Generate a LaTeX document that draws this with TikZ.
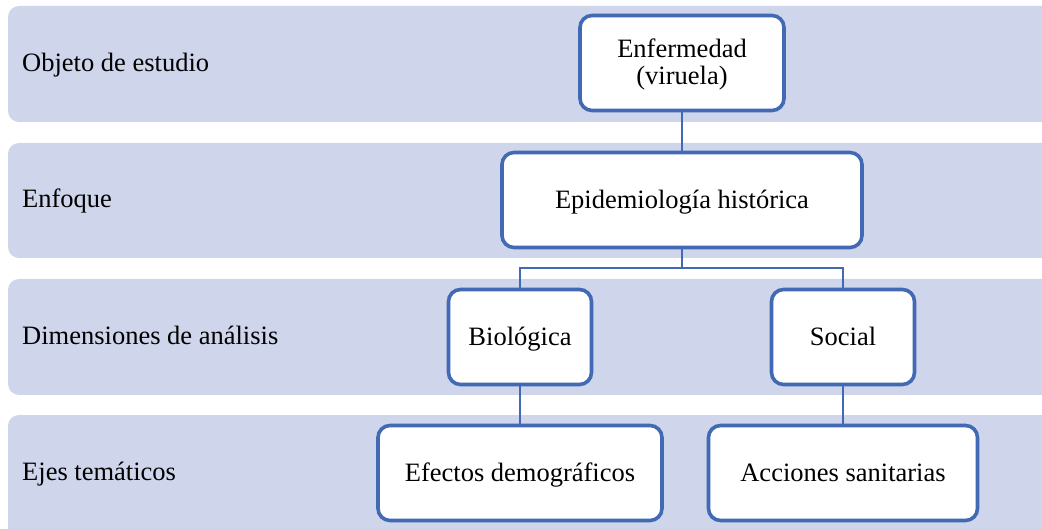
\documentclass[tikz,border=0pt]{standalone}
\usepackage{fontspec}
\setmainfont{Liberation Serif}
\definecolor{bandfill}{HTML}{CFD5EA}
\definecolor{boxline}{HTML}{4169B4}
\begin{document}
\begin{tikzpicture}[x=1pt,y=-1pt,font=\fontsize{26.5}{27}\selectfont,
  band/.style={fill=bandfill,rounded corners=11pt},
  lbl/.style={anchor=base west,inner sep=0pt},
  box/.style={draw=boxline,line width=3.6pt,rounded corners=12pt,fill=white,minimum height=95pt,align=center,inner sep=2pt},
  oneline/.style={text height=20pt,text depth=3pt},
  link/.style={draw=boxline,line width=2.2pt}]
\useasboundingbox (0,0) rectangle (1042,529);
\clip (0,0) rectangle (1042,529);
% background rows
\fill[band] (8,6) rectangle (1070,122);
\fill[band] (8,143) rectangle (1070,258);
\fill[band] (8,279) rectangle (1070,395);
\fill[band] (8,415) rectangle (1070,560);
\node[lbl] (objeto) at (22,72) {Objeto de estudio};
\node[lbl] (enfoque) at (22,208) {Enfoque};
\node[lbl] (dimens) at (22,345) {Dimensiones de análisis};
\node[lbl] (ejes) at (22,480) {Ejes temáticos};
% boxes
\node[box,minimum width=204pt,text height=48pt,text depth=4pt] (enf) at (682,63) {Enfermedad\\(viruela)};
\node[box,oneline,minimum width=360pt] (epi) at (682,200) {Epidemiología histórica};
\node[box,oneline,minimum width=143pt] (bio) at (520,337) {Biológica};
\node[box,oneline,minimum width=143pt] (soc) at (843,337) {Social};
\node[box,oneline,minimum width=284pt] (efe) at (520,473) {Efectos demográficos};
\node[box,oneline,minimum width=269pt] (acc) at (843,473) {Acciones sanitarias};
% connectors
\coordinate (split) at (682,268);
\draw[link] (enf.south)--(epi.north);
\draw[link] (epi.south)--(split);
\draw[link] (bio.north)|-(split)-|(soc.north);
\draw[link] (bio.south)--(efe.north);
\draw[link] (soc.south)--(acc.north);
\end{tikzpicture}
\end{document}
